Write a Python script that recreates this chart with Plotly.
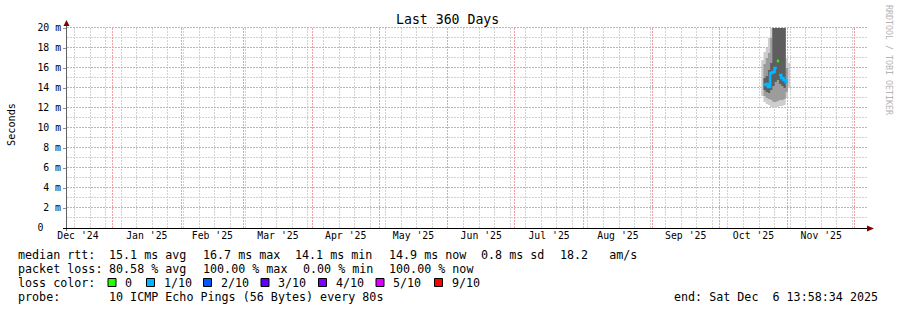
import plotly.graph_objects as go
import pandas as pd

# ---------------- data ----------------
START = "2024-12-11 13:58:34"
END = "2025-12-06 13:58:34"

step_days = ["2025-10-20", "2025-10-21", "2025-10-22", "2025-10-23", "2025-10-24",
             "2025-10-25", "2025-10-26", "2025-10-27", "2025-10-28", "2025-10-29",
             "2025-10-30", "2025-10-31", "2025-11-01"]
# smoke bands in ms (outer = lightest, inner = darkest)
outer_lo = [13.2, 12.6, 12.4, 12.3, 12.1, 12.0, 12.0, 12.1, 12.2, 12.2, 12.3, 13.0, 14.0]
outer_hi = [16.8, 17.6, 18.0, 19.0, 21.0, 21.0, 21.0, 21.0, 21.0, 21.0, 21.0, 17.0, 16.5]
mid_lo = [None, 13.2, 13.0, 12.9, 12.8, 12.6, 12.6, 12.7, 12.8, 12.8, 12.9, 13.6, None]
mid_hi = [None, 16.4, 17.0, 17.5, 19.0, 21.0, 21.0, 21.0, 21.0, 21.0, 21.0, 16.0, None]
inner_lo = [None, 13.8, 13.6, 13.5, 13.8, 14.2, 14.6, 14.8, 14.4, 14.2, 14.0, None, None]
inner_hi = [None, 15.0, 15.2, 15.8, 16.5, 21.0, 21.0, 21.0, 21.0, 21.0, 21.0, None, None]
median_ms = [None, 14.3, 14.4, 14.1, 15.5, 15.6, 16.0, 16.7, 15.3, 15.0, 14.8, 14.6, None]
loss_cnt = [None, 1, 1, 1, 1, 1, 1, 0, 1, 1, 1, 1, None]

loss_labels = ["0", "1/10", "2/10", "3/10", "4/10", "5/10", "9/10"]
loss_values = [0, 1, 2, 3, 4, 5, 9]
loss_colors = ["#26ff00", "#00b8ff", "#0059ff", "#5e00ff", "#7e00ff", "#dd00ff", "#ff0000"]

y_ticks_ms = [0, 2, 4, 6, 8, 10, 12, 14, 16, 18, 20]

stats_rtt = ["15.1 ms avg", "16.7 ms max", "14.1 ms min", "14.9 ms now", "0.8 ms sd", "18.2   am/s"]
stats_loss = ["80.58 % avg", "100.00 % max", "0.00 % min", "100.00 % now"]
probe_text = "10 ICMP Echo Pings (56 Bytes) every 80s"
end_text = "end: Sat Dec  6 13:58:34 2025"
title_text = "Last 360 Days"

# ---------------- helpers ----------------
MONO = "DejaVu Sans Mono"
L, R, T, B = 67, 30, 28, 82
W, H = 897, 310
PW, PH = W - L - R, H - T - B
t0, t1 = pd.Timestamp(START), pd.Timestamp(END)


def px(x):
    return (x - L) / PW


def py(y):
    return (H - B - y) / PH


def date_px(d):
    # pixel column of a grid date, snapped to a pixel centre
    return int(L + (d - t0) / (t1 - t0) * PW) + 0.5


days = pd.to_datetime(step_days)
edges = list(days) + [days[-1] + pd.Timedelta(days=1)]


def step_xy(vals):
    xs, ys = [], []
    for i, v in enumerate(vals):
        if v is None:
            xs.append(None); ys.append(None)
            continue
        xs += [edges[i], edges[i + 1]]
        ys += [v / 1000.0, v / 1000.0]
    return xs, ys


fig = go.Figure()

bands = [(outer_lo, outer_hi, "#cdcdcd"), (mid_lo, mid_hi, "#9c9c9c"), (inner_lo, inner_hi, "#5e5e5e")]
for lo, hi, col in bands:
    xl, yl = step_xy(lo)
    xh, yh = step_xy(hi)
    fig.add_trace(go.Scatter(x=xl, y=yl, mode="lines", line=dict(width=0), hoverinfo="skip",
                             showlegend=False))
    fig.add_trace(go.Scatter(x=xh, y=yh, mode="lines", line=dict(width=0), fill="tonexty",
                             fillcolor=col, hoverinfo="skip", showlegend=False))

# median line, coloured by loss
for lv, col in zip(loss_values, loss_colors):
    xs, ys = [], []
    prev = False
    for i, (m, lc) in enumerate(zip(median_ms, loss_cnt)):
        if m is not None and lc == lv:
            xs += [edges[i], edges[i + 1]]
            ys += [m / 1000.0, m / 1000.0]
            prev = True
        elif prev:
            xs.append(None); ys.append(None)
            prev = False
    if xs:
        fig.add_trace(go.Scatter(x=xs, y=ys, mode="lines", line=dict(color=col, width=2.6),
                                 hoverinfo="skip", showlegend=False, connectgaps=False))

GRID_RED = "#f0a0a0"
GRID_GRAY = "#d2d2d2"
DASH = "2px,1px"

fig.update_layout(
    width=W, height=H, margin=dict(l=L, r=R, t=T, b=B, pad=0),
    paper_bgcolor="white", plot_bgcolor="white", showlegend=False,
    xaxis=dict(type="date", range=[START, END], dtick="M1", tick0="2025-01-01",
               ticklabelmode="period", tickformat="%b '%y", showgrid=False,
               ticks="", showline=False, zeroline=False,
               tickfont=dict(family=MONO, size=9.8, color="black")),
    yaxis=dict(range=[0, 0.020], tickmode="array", tickvals=[v / 1000.0 for v in y_ticks_ms],
               ticktext=[("%d m" % v) if v else "0\u00a0\u00a0\u00a0" for v in y_ticks_ms],
               showgrid=False, ticks="outside", ticklen=3, tickcolor="rgba(120,120,120,0.8)",
               showline=False, zeroline=False,
               tickfont=dict(family=MONO, size=9.8, color="black")),
)

shapes = []
# grid: weekly (gray) and monthly (red) verticals, 1 m (gray) and 2 m (red) horizontals
weeks = pd.date_range("2024-12-15", END, freq="7D")
months = pd.date_range("2025-01-01", END, freq="MS")


def vline(d, col, dash=DASH):
    x = px(date_px(d))
    shapes.append(dict(type="line", xref="paper", yref="paper", x0=x, x1=x, y0=0, y1=1,
                       layer="below", line=dict(color=col, width=1, dash=dash)))


def hline(v, col, dash=DASH):
    y = py(H - B - v * PH / 20.0 - 0.5)
    shapes.append(dict(type="line", xref="paper", yref="paper", x0=0, x1=1, y0=y, y1=y,
                       layer="below", line=dict(color=col, width=1, dash=dash)))


for d in weeks:
    vline(d, GRID_GRAY)
for v in range(1, 21, 2):
    hline(v, GRID_GRAY)
for d in months:
    vline(d, GRID_RED)
for v in y_ticks_ms[1:]:
    hline(v, GRID_RED)

# y axis line and arrow
shapes.append(dict(type="line", xref="paper", yref="paper", x0=px(66.5), x1=px(66.5),
                   y0=py(231), y1=py(24), line=dict(color="#606060", width=1)))
shapes.append(dict(type="path", xref="paper", yref="paper",
                   path="M %f %f L %f %f L %f %f Z" % (px(63.5), py(26), px(69.5), py(26), px(66.5), py(20)),
                   fillcolor="#7f0000", line=dict(width=0)))
# x axis line and arrow
shapes.append(dict(type="line", xref="paper", yref="paper", x0=px(63), x1=px(870),
                   y0=py(228.5), y1=py(228.5), line=dict(color="black", width=1)))
shapes.append(dict(type="path", xref="paper", yref="paper",
                   path="M %f %f L %f %f L %f %f Z" % (px(867), py(225.5), px(867), py(231.5), px(874), py(228.5)),
                   fillcolor="#7f0000", line=dict(width=0)))

ann = []


def text(x, y, s, size=11.7, anchor="left", color="black", angle=0, family=MONO):
    ann.append(dict(x=px(x), y=py(y), xref="paper", yref="paper", text=s, showarrow=False,
                    xanchor=anchor, yanchor="middle", textangle=angle,
                    font=dict(family=family, size=size, color=color)))


text(447.5, 19, title_text, size=13.2, anchor="center")
text(11, 124, "Seconds", size=10.2, anchor="center", angle=-90)
text(889, 60, "RRDTOOL / TOBI OETIKER", size=8.3, anchor="center", angle=90, color="#b4b4b4")

y1, y2, y3, y4 = 254.5, 268.5, 282.5, 296.8
text(16, y1, "median rtt:")
for xpos, s in zip([107.3, 201, 293.3, 386.7, 479, 558], stats_rtt):
    text(xpos, y1, s)
text(16, y2, "packet loss:")
for xpos, s in zip([107.3, 201, 300.5, 386.7], stats_loss):
    text(xpos, y2, s)
text(16, y3, "loss color:")
sq_x = [108, 146.5, 203.5, 261, 318.5, 376, 434.5]
for sx, lab, col in zip(sq_x, loss_labels, loss_colors):
    shapes.append(dict(type="rect", xref="paper", yref="paper", x0=px(sx), x1=px(sx + 8),
                       y0=py(y3 + 4), y1=py(y3 - 4), fillcolor=col,
                       line=dict(color="black", width=1)))
    text(sx + 15, y3, lab)
text(16, y4, "probe:")
text(107.3, y4, probe_text)
text(880, y4, end_text, anchor="right")

fig.update_layout(shapes=shapes, annotations=ann)
fig.write_html("out.html")
